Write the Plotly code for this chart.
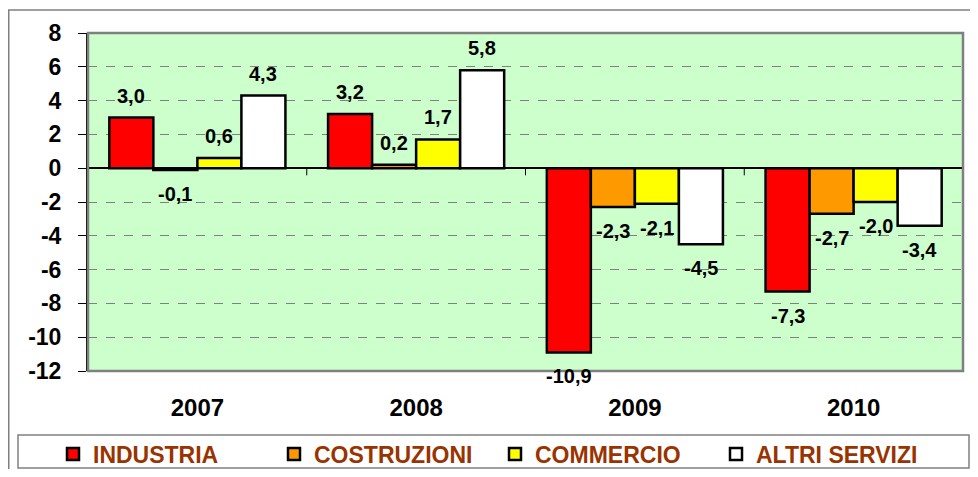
import plotly.graph_objects as go

years = ["2007", "2008", "2009", "2010"]
industria = [3.0, 3.2, -10.9, -7.3]
costruzioni = [-0.1, 0.2, -2.3, -2.7]
commercio = [0.6, 1.7, -2.1, -2.0]
altri_servizi = [4.3, 5.8, -4.5, -3.4]
series_names = ["INDUSTRIA", "COSTRUZIONI", "COMMERCIO", "ALTRI SERVIZI"]
ytick_vals = [-12, -10, -8, -6, -4, -2, 0, 2, 4, 6, 8]
ytick_text = ["-12", "-10", "-8", "-6", "-4", "-2", "0", "2", "4", "6", "8"]

colors = ["#FF0000", "#FF9900", "#FFFF00", "#FFFFFF"]
FONT = "Liberation Sans, Arial, sans-serif"
BARGAP = 0.195


def fmt(v):
    return f"{v:.1f}".replace(".", ",")


# figure sits inside the page body (8px default margin)
W, H = 962, 461
L, R, T, B = 80, 7, 25, 98
pw, ph = W - L - R, H - T - B


def px(xp):
    return (xp - L) / pw


def py(yp):
    return (H - B - yp) / ph


all_series = [industria, costruzioni, commercio, altri_servizi]
fig = go.Figure()
for name, vals, col in zip(series_names, all_series, colors):
    fig.add_trace(go.Bar(
        x=years, y=vals, name=name,
        marker=dict(color=col, line=dict(color="#000000", width=2.5)),
    ))

# value labels, placed at each bar's end (x given as category index)
bar_px = pw / len(years) * (1 - BARGAP) / len(all_series)
annotations = []
for k, vals in enumerate(all_series):
    xs = (k - (len(all_series) - 1) / 2) * bar_px
    for i, v in enumerate(vals):
        annotations.append(dict(
            x=i, y=v, xref="x", yref="y", text=fmt(v), showarrow=False,
            xshift=xs, yshift=9 if v >= 0 else -11,
            yanchor="bottom" if v >= 0 else "top",
            font=dict(family=FONT, size=20, color="#000000", weight="bold"),
        ))

shapes = [
    # outer chart border
    dict(type="rect", xref="paper", yref="paper", x0=px(0.75), x1=px(1000), y0=py(2), y1=py(520),
         line=dict(color="#808080", width=1.5), layer="below"),
    # legend box
    dict(type="rect", xref="paper", yref="paper", x0=px(10), x1=px(961), y0=py(427), y1=py(460),
         line=dict(color="#808080", width=1.5), fillcolor="rgba(0,0,0,0)"),
    # plot area border
    dict(type="rect", xref="paper", yref="paper", x0=0, x1=1, y0=0, y1=1,
         line=dict(color="#808080", width=2.5), layer="above"),
]
# category separator ticks on the zero line
for i in range(1, len(years)):
    shapes.append(dict(type="line", xref="x", yref="y", x0=i - 0.5, x1=i - 0.5, y0=0, y1=-0.42,
                       line=dict(color="#000000", width=1)))

fig.update_layout(
    width=W, height=H,
    margin=dict(l=L, r=R, t=T, b=B, autoexpand=False),
    paper_bgcolor="#FFFFFF", plot_bgcolor="#CCFFCC",
    barmode="group", bargap=BARGAP, bargroupgap=0,
    font=dict(family=FONT, color="#000000"),
    showlegend=True,
    legend=dict(orientation="h", x=px(45), y=py(446), yanchor="middle", xanchor="left",
                entrywidth=176, entrywidthmode="pixels",
                font=dict(family=FONT, size=23, color="#993300", weight="bold"),
                bgcolor="rgba(0,0,0,0)", borderwidth=0, itemclick=False),
    shapes=shapes,
    annotations=annotations,
    xaxis=dict(type="category", range=[-0.5, len(years) - 0.5],
               showgrid=False, showline=False, ticks="", ticklabelstandoff=20,
               tickfont=dict(family=FONT, size=24, color="#000000", weight="bold")),
    yaxis=dict(range=[-12, 8], tickvals=ytick_vals, ticktext=ytick_text,
               showgrid=True, gridcolor="#808080", griddash="dash", gridwidth=1,
               zeroline=True, zerolinecolor="#000000", zerolinewidth=1.5,
               showline=True, linecolor="#000000", linewidth=2,
               ticks="outside", ticklen=8, tickcolor="#000000", tickwidth=1,
               ticklabelstandoff=12,
               tickfont=dict(family=FONT, size=23, color="#000000", weight="bold")),
)

fig.write_html("out.html")
